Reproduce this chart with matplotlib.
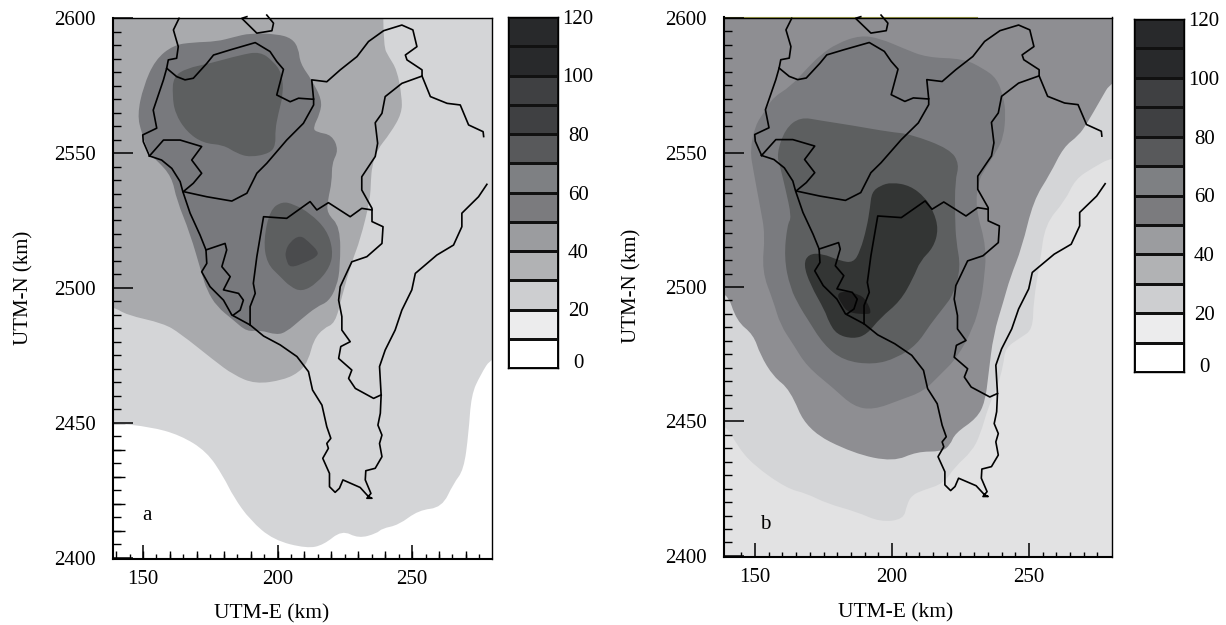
import matplotlib
matplotlib.use('Agg')
import matplotlib.pyplot as plt
from matplotlib.colors import ListedColormap, BoundaryNorm
from matplotlib.patches import PathPatch
from matplotlib.path import Path

plt.rcParams['font.family'] = ['Liberation Serif', 'DejaVu Serif']
plt.rcParams['font.size'] = 15

W, H = 1226, 625

# Colour bar
cb_levels = [0, 10, 20, 30, 40, 50, 60, 70, 80, 90, 100, 110, 120]
cb_colors = ['#ffffff', '#ececed', '#cdced0', '#b1b2b4', '#9b9c9f', '#7b7b7e',
             '#7e8083', '#58595b', '#3f4042', '#3f4042', '#28292b', '#28292b']
cb_ticks = [0, 20, 40, 60, 80, 100, 120]

x_major = [150, 200, 250]
y_major = [2400, 2450, 2500, 2550, 2600]

# County lines and coast, UTM km
coast = [(152.4, 2548.9), (156.9, 2547.4), (160.7, 2544.3), (163.8, 2539.4), (164.8, 2535.7), (167.5, 2527.7),
         (171.2, 2519.6), (173.4, 2514.1), (173.7, 2509.1), (171.8, 2506.0), (174.9, 2500.5), (179.9, 2495.5),
         (183.0, 2490.0), (189.8, 2486.3), (194.8, 2482.2), (201.0, 2478.9), (207.2, 2474.6), (211.5, 2469.0),
         (213.0, 2462.2), (216.5, 2456.6), (218.3, 2448.6), (219.8, 2444.3), (218.3, 2442.4), (218.9, 2440.6),
         (216.8, 2436.9), (219.3, 2431.3), (219.3, 2426.4), (221.4, 2424.3), (223.0, 2425.8), (224.3, 2428.9),
         (230.7, 2426.1), (233.8, 2422.7), (235.1, 2422.1), (233.2, 2422.1), (234.7, 2423.9), (232.6, 2428.9),
         (232.8, 2432.3), (236.3, 2433.2), (238.8, 2437.5), (237.9, 2442.4), (238.8, 2445.5), (237.3, 2449.2),
         (238.2, 2453.6), (238.5, 2460.4), (237.9, 2470.9), (240.0, 2477.0), (243.7, 2484.4), (246.2, 2491.8),
         (249.9, 2499.3), (251.2, 2505.4), (259.2, 2512.2), (265.4, 2515.9), (268.5, 2522.7), (268.5, 2527.7),
         (274.7, 2533.8), (277.8, 2538.4)]
north_west = [(163.4, 2599.9), (161.3, 2595.6), (163.1, 2589.4), (162.5, 2585.1), (159.4, 2584.5), (158.8, 2581.4),
              (157.6, 2577.1), (153.8, 2565.9), (155.1, 2559.2), (149.9, 2556.7), (150.1, 2554.2), (152.4, 2548.9)]
north_top = [(158.8, 2581.4), (162.5, 2578.3), (165.6, 2577.1), (168.7, 2577.7), (173.7, 2583.2), (176.2, 2586.3),
             (182.4, 2588.2), (191.7, 2590.9), (197.2, 2587.6), (199.7, 2583.9), (202.2, 2581.0), (199.7, 2571.5),
             (204.7, 2569.0), (207.8, 2570.3), (213.4, 2569.9), (212.7, 2577.1), (218.3, 2576.4), (223.3, 2580.8),
             (229.5, 2585.7), (233.8, 2591.3), (239.4, 2595.3), (246.2, 2597.4), (250.3, 2595.6), (251.8, 2589.4),
             (247.5, 2586.3), (248.1, 2584.5), (253.7, 2580.8), (253.7, 2578.5), (246.2, 2575.8), (240.0, 2570.9),
             (238.8, 2564.7), (236.3, 2561.2), (237.2, 2553.6), (236.3, 2548.7), (231.3, 2541.2), (231.3, 2536.3),
             (235.1, 2529.5), (235.1, 2524.6), (239.2, 2522.7), (238.8, 2516.5), (233.2, 2511.6), (227.6, 2509.7),
             (223.3, 2500.5), (222.7, 2495.5), (223.9, 2489.4), (223.9, 2484.4), (227.0, 2480.1), (223.5, 2478.3),
             (222.7, 2473.9), (227.6, 2469.6), (226.4, 2466.5), (228.9, 2462.8), (235.7, 2459.1), (238.5, 2460.4)]
east_branch = [(253.7, 2578.5), (256.8, 2570.9), (263.0, 2568.4), (267.9, 2567.8), (271.0, 2560.4), (276.4, 2557.9),
               (276.6, 2556.1)]
mid_line = [(213.4, 2569.9), (213.4, 2567.8), (209.6, 2561.0), (203.4, 2554.8), (196.0, 2546.2), (192.3, 2542.5),
            (188.6, 2535.1), (183.0, 2532.2), (173.7, 2533.8), (165.0, 2535.7)]
enclave = [(152.4, 2548.9), (157.6, 2554.8), (163.8, 2554.8), (171.8, 2552.4), (168.1, 2547.4), (171.8, 2542.5),
           (168.7, 2538.8), (165.0, 2535.7)]
top_blob = [(188.6, 2600.5), (186.7, 2599.9), (192.3, 2594.4), (197.9, 2595.3), (198.5, 2598.1), (196.0, 2601.1)]
south_line = [(235.1, 2528.9), (231.3, 2529.5), (227.0, 2526.4), (218.9, 2531.6), (214.6, 2528.9), (212.1, 2532.0),
              (203.4, 2525.8), (194.8, 2526.4), (192.3, 2511.6), (191.0, 2501.7), (191.7, 2498.0), (189.8, 2493.1),
              (189.8, 2486.3)]
bay_line = [(173.4, 2514.1), (180.5, 2516.5), (181.1, 2514.1), (179.3, 2507.9), (182.4, 2504.2), (179.9, 2499.3),
            (185.5, 2498.0), (187.3, 2495.5), (186.1, 2491.8), (183.6, 2490.0)]
map_lines = [coast, north_west, north_top, east_branch, mid_line, enclave, top_blob, south_line, bay_line]

# Panel a shaded regions
a_level1 = [(130, 2449.9), (139.0, 2449.9), (152.6, 2448.6), (163.8, 2445.5), (173.7, 2439.4), (179.9, 2430.1),
            (183.6, 2422.7), (189.8, 2414.0), (198.5, 2406.6), (210.9, 2403.5), (217.1, 2404.8), (223.9, 2410.3),
            (230.1, 2407.2), (236.9, 2409.1), (238.8, 2410.9), (245.0, 2412.2), (252.4, 2417.7), (261.1, 2418.7),
            (265.4, 2427.6), (269.2, 2432.6), (271.0, 2446.2), (272.0, 2460.4), (275.4, 2467.8), (279.7, 2474.6),
            (290, 2474.6), (290, 2610), (130, 2610)]
a_level2 = [(130, 2493.1), (139.0, 2493.1), (143.9, 2490.0), (157.6, 2486.9), (163.8, 2483.2), (176.2, 2473.3),
            (183.6, 2467.8), (191.7, 2464.4), (202.2, 2465.9), (208.4, 2469.0), (211.5, 2473.3), (213.4, 2480.7),
            (217.1, 2485.1), (221.4, 2486.9), (223.9, 2496.8), (227.6, 2509.7), (230.7, 2517.8), (234.4, 2532.6),
            (234.7, 2540.0), (235.1, 2544.9), (236.9, 2551.1), (241.9, 2557.3), (246.2, 2564.7), (246.2, 2570.9),
            (244.4, 2580.8), (241.3, 2585.7), (239.4, 2589.4), (239.2, 2610), (130, 2610)]
a_level3 = [(189.8, 2594.4), (199.7, 2594.1), (205.3, 2592.5), (207.8, 2588.8), (208.4, 2583.2), (212.7, 2577.1),
            (216.5, 2569.7), (215.8, 2564.7), (213.1, 2559.2), (214.6, 2557.7), (220.2, 2556.7), (222.7, 2551.1),
            (220.2, 2546.2), (220.2, 2539.4), (218.7, 2532.6), (218.3, 2527.7), (223.3, 2522.7), (223.3, 2507.9),
            (222.0, 2500.5), (218.9, 2494.9), (214.6, 2493.1), (208.4, 2488.1), (203.4, 2483.8), (199.7, 2482.6),
            (193.5, 2484.4), (188.6, 2483.8), (183.6, 2488.1), (177.4, 2493.1), (173.7, 2499.3), (171.8, 2505.4),
            (167.5, 2520.2), (162.5, 2532.6), (160.7, 2541.2), (155.1, 2547.4), (152.4, 2549.3), (149.5, 2557.3),
            (147.9, 2564.1), (150.1, 2574.6), (154.5, 2584.5), (161.3, 2590.0), (168.7, 2591.0), (177.4, 2591.3),
            (183.6, 2592.9)]
a_level4_north = [(161.3, 2578.3), (166.2, 2581.4), (174.9, 2583.2), (186.1, 2586.3), (193.5, 2587.6), (198.5, 2583.9),
                  (201.6, 2579.5), (202.2, 2572.1), (200.3, 2564.7), (199.1, 2558.5), (199.3, 2553.0), (197.2, 2549.9),
                  (189.8, 2548.4), (184.8, 2549.9), (179.9, 2553.0), (172.4, 2553.6), (166.2, 2557.9), (161.9, 2564.7),
                  (160.9, 2571.5)]
a_level4_south = [(194.8, 2517.8), (197.2, 2528.9), (201.6, 2532.0), (205.9, 2531.1), (212.1, 2527.7), (218.3, 2521.5),
                  (220.6, 2514.1), (219.6, 2507.9), (214.6, 2501.7), (209.0, 2498.6), (204.7, 2500.5), (201.0, 2504.2),
                  (196.0, 2509.1)]
a_level5 = [(202.8, 2513.5), (204.7, 2517.2), (208.4, 2519.6), (211.5, 2517.2), (215.2, 2513.5), (214.6, 2511.6),
            (210.9, 2509.7), (204.7, 2507.3), (203.2, 2510.4)]
a_regions = [(a_level1, '#d4d5d7'), (a_level2, '#a9aaad'), (a_level3, '#78797d'), (a_level4_north, '#5d5f60'),
             (a_level4_south, '#5d5f60'), (a_level5, '#4a4b4d')]

# Panel b shaded regions
b_level0 = [(130, 2390), (290, 2390), (290, 2610), (130, 2610)]
b_level1 = [(130, 2610), (290, 2610), (290, 2548.2), (280.2, 2548.2), (273.6, 2544.5), (266.9, 2540.1), (263.2, 2532.1),
            (255.9, 2523.4), (254.1, 2509.7), (251.6, 2494.7), (251.4, 2484.2), (246.8, 2481.1), (241.3, 2477.3),
            (240.7, 2471.1), (238.3, 2462.4), (235.2, 2455.6), (232.2, 2445.0), (229.1, 2438.8), (223.0, 2433.2),
            (218.8, 2426.9), (211.5, 2424.5), (207.2, 2422.6), (205.4, 2418.9), (204.2, 2413.6), (195.7, 2412.6),
            (187.1, 2416.4), (176.2, 2419.5), (168.9, 2423.2), (161.6, 2425.1), (149.4, 2433.8), (143.3, 2441.2),
            (139.7, 2448.7), (130, 2450)]
b_level2 = [(130, 2610), (290, 2610), (290, 2576.8), (280.2, 2576.8), (276.0, 2569.4), (271.1, 2560.7), (268.1, 2556.3),
            (262.6, 2552.0), (257.7, 2542.0), (251.6, 2532.1), (247.4, 2514.6), (243.1, 2503.4), (240.7, 2494.7),
            (237.0, 2482.3), (235.2, 2467.4), (234.0, 2457.4), (231.0, 2451.2), (223.0, 2445.6), (221.2, 2441.2),
            (218.2, 2438.8), (209.1, 2438.8), (200.5, 2435.0), (185.9, 2438.1), (168.9, 2446.8), (162.8, 2461.8),
            (156.7, 2466.7), (151.9, 2474.8), (149.4, 2482.3), (143.3, 2487.3), (139.7, 2498.5), (130, 2499)]
b_level3 = [(156.7, 2570.6), (162.8, 2574.4), (168.9, 2581.2), (173.8, 2586.2), (179.8, 2590.5), (188.4, 2593.6),
            (195.7, 2592.4), (204.2, 2588.7), (212.7, 2585.3), (226.1, 2584.9), (233.4, 2581.2), (238.3, 2577.5),
            (240.7, 2570.6), (241.5, 2564.4), (240.7, 2555.7), (238.3, 2550.7), (234.0, 2543.9), (231.6, 2539.5),
            (230.4, 2529.6), (234.6, 2514.6), (233.4, 2501.0), (232.4, 2494.7), (229.7, 2484.8), (223.7, 2473.6),
            (217.6, 2467.4), (211.5, 2461.2), (203.0, 2458.0), (193.2, 2454.3), (185.9, 2455.6), (178.6, 2462.4),
            (168.9, 2470.5), (164.0, 2478.6), (159.2, 2486.0), (156.7, 2494.7), (152.5, 2505.9), (153.7, 2519.6),
            (151.9, 2529.6), (149.4, 2543.3), (148.2, 2550.7), (150.0, 2560.0), (153.7, 2565.6)]
b_level4 = [(157.9, 2549.5), (161.0, 2558.8), (166.5, 2563.2), (173.8, 2561.9), (185.9, 2560.0), (199.3, 2557.6),
            (206.6, 2556.9), (221.2, 2551.3), (224.6, 2545.7), (223.0, 2539.5), (223.0, 2525.8), (223.4, 2517.1),
            (225.1, 2507.2), (222.4, 2497.2), (218.8, 2492.3), (213.9, 2486.0), (209.1, 2478.6), (201.8, 2473.6),
            (193.2, 2471.1), (182.3, 2472.6), (175.0, 2478.6), (168.9, 2488.5), (166.5, 2492.3), (162.8, 2499.7),
            (160.6, 2510.9), (161.8, 2523.3), (163.4, 2525.8), (161.0, 2537.0), (159.2, 2544.5)]
b_level5 = [(192.6, 2535.2), (195.7, 2537.7), (199.9, 2538.9), (206.6, 2537.7), (212.1, 2533.3), (215.1, 2528.3),
            (217.0, 2521.5), (215.1, 2514.6), (210.3, 2509.7), (207.8, 2503.4), (203.0, 2494.7), (195.7, 2488.5),
            (190.8, 2482.3), (185.9, 2480.7), (179.8, 2482.3), (176.8, 2487.3), (175.6, 2491.0), (170.1, 2501.0),
            (167.7, 2508.4), (169.5, 2512.2), (174.4, 2512.5), (181.1, 2509.7), (185.9, 2509.0), (188.4, 2513.4),
            (190.8, 2522.1), (192.0, 2529.6)]
b_level6 = [(179.8, 2497.2), (182.3, 2498.5), (188.4, 2497.2), (190.8, 2494.7), (192.6, 2490.4), (190.8, 2489.8),
            (184.1, 2490.4), (181.7, 2493.5)]
b_regions = [(b_level0, '#e2e2e3'), (b_level1, '#d4d5d7'), (b_level2, '#8e8e92'), (b_level3, '#7a7b7f'),
             (b_level4, '#5d5f60'), (b_level5, '#333534'), (b_level6, '#1e1e1e')]


def axes_px(fig, left, top, right, bottom):
    return fig.add_axes([left / W, 1 - bottom / H, (right - left) / W, (bottom - top) / H])


def round_path(poly):
    # closed outline: vertices act as quadratic control points,
    # the ones off the map stay as sharp corners
    verts = []
    codes = []
    n = len(poly)
    verts.append(((poly[-1][0] + poly[0][0]) / 2, (poly[-1][1] + poly[0][1]) / 2))
    codes.append(Path.MOVETO)
    for i in range(n):
        cur = poly[i]
        nxt = poly[(i + 1) % n]
        mid = ((cur[0] + nxt[0]) / 2, (cur[1] + nxt[1]) / 2)
        off_map = cur[0] < 135 or cur[0] > 285 or cur[1] < 2395 or cur[1] > 2605
        if off_map:
            verts += [cur, mid]
            codes += [Path.LINETO, Path.LINETO]
        else:
            verts += [cur, mid]
            codes += [Path.CURVE3, Path.CURVE3]
    return Path(verts, codes)


def draw_panel(ax, regions, xlim, ylim, letter, letter_pos):
    for poly, color in regions:
        ax.add_patch(PathPatch(round_path(poly), facecolor=color, edgecolor='none', lw=0))
    for line in map_lines:
        xs = [p[0] for p in line]
        ys = [p[1] for p in line]
        ax.plot(xs, ys, color='black', lw=1.2, clip_on=False, solid_joinstyle='round', zorder=3)
    ax.set_xlim(xlim)
    ax.set_ylim(ylim)
    ax.text(letter_pos[0], letter_pos[1], letter, ha='center', va='center')

    # ticks: 50 km major, 10 km and 5 km levels
    ax.set_xticks(x_major)
    ax.set_yticks(y_major)
    ax.set_xticks(list(range(145, 280, 5)), minor=True)
    ax.set_yticks(list(range(2405, 2600, 5)), minor=True)
    ax.tick_params(axis='x', which='major', direction='in', length=10, width=1.1, pad=8, top=False)
    ax.tick_params(axis='y', which='major', direction='in', length=14.5, width=1.1, pad=12, right=False)
    ax.tick_params(axis='x', which='minor', direction='in', length=3.6, width=1, top=False)
    ax.tick_params(axis='y', which='minor', direction='in', length=5.8, width=1, right=False)
    sx = ax.secondary_xaxis('bottom')
    sx.set_xticks(list(range(140, 280, 10)))
    sx.tick_params(direction='in', length=5.8, width=1, labelbottom=False)
    sx.spines['bottom'].set_visible(False)
    sy = ax.secondary_yaxis('left')
    sy.set_yticks(list(range(2410, 2600, 10)))
    sy.tick_params(direction='in', length=8.6, width=1, labelleft=False)
    sy.spines['left'].set_visible(False)
    for name in ax.spines:
        ax.spines[name].set_linewidth(1.0)
    ax.spines['left'].set_linewidth(1.5)
    ax.spines['bottom'].set_linewidth(1.5)
    ax.set_zorder(2)


def draw_colorbar(cax):
    cmap = ListedColormap(cb_colors)
    norm = BoundaryNorm(cb_levels, cmap.N)
    values = [[(a + b) / 2] for a, b in zip(cb_levels[:-1], cb_levels[1:])]
    cax.pcolormesh([0, 1], cb_levels, values, cmap=cmap, norm=norm, edgecolors='#111111', linewidth=0.8)
    cax.set_xticks([])
    cax.set_yticks(cb_ticks)
    cax.yaxis.tick_right()
    cax.tick_params(axis='y', length=0, pad=14.5)
    for t in cax.get_yticklabels():
        t.set_ha('center')
    cax.get_yticklabels()[0].set_va('baseline')
    for name in cax.spines:
        cax.spines[name].set_linewidth(1.0)


fig = plt.figure(figsize=(W / 100, H / 100), dpi=100)

ax_a = axes_px(fig, 112.5, 17.5, 492, 559)
draw_panel(ax_a, a_regions, (138.66, 279.7), (2399.6, 2600.2), 'a', (151.5, 2415.6))
fig.text(272 / W, 1 - 614 / H, 'UTM-E (km)', ha='center', va='center', fontsize=15.5)
fig.text(24 / W, 1 - 288 / H, 'UTM-N (km)', ha='center', va='center', rotation=90)

ax_b = axes_px(fig, 723.5, 17.5, 1112, 557)
draw_panel(ax_b, b_regions, (138.5, 280.3), (2399.6, 2600.2), 'b', (153.6, 2411.6))
ax_b.plot([138.5, 231], [2600.5, 2600.5], color='#a8a850', lw=0.8, clip_on=False, zorder=1)
fig.text(896 / W, 1 - 613 / H, 'UTM-E (km)', ha='center', va='center', fontsize=15.5)
fig.text(632 / W, 1 - 286 / H, 'UTM-N (km)', ha='center', va='center', rotation=90)

draw_colorbar(axes_px(fig, 508, 17, 558, 368))
draw_colorbar(axes_px(fig, 1134, 19, 1184, 372))

fig.savefig('out.png', dpi=100)
